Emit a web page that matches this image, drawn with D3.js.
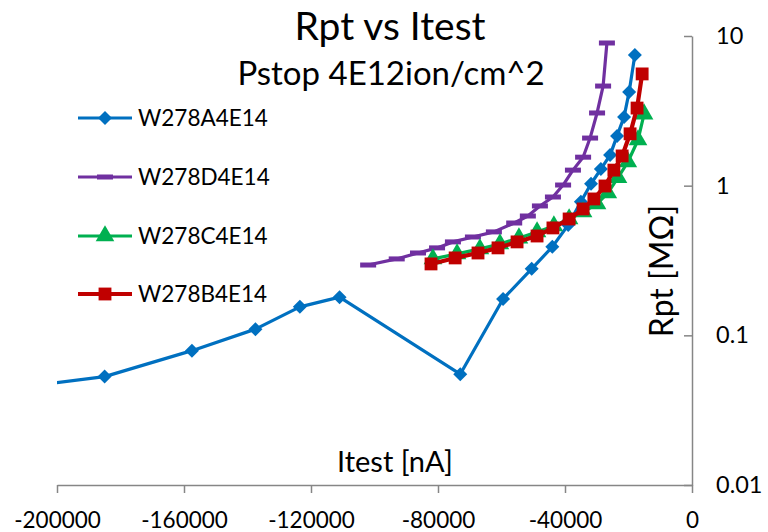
<!DOCTYPE html>
<html><head><meta charset="utf-8">
<script src="https://cdn.jsdelivr.net/npm/d3@7"></script>
<style>body{margin:0;background:#fff} text{font-family:Lato, sans-serif; fill:#000}</style>
</head><body><svg id="c" width="768" height="532"></svg>
<script>
// ---- data ----
const seriesNames = ["W278A4E14", "W278D4E14", "W278C4E14", "W278B4E14"];
const seriesColors = ["#0070C0", "#7030A0", "#00B050", "#C00000"];
const seriesMarkers = ["diamond", "dash", "triangle", "square"];

const itestA = [-215000, -185000, -157500, -137500, -123500, -111000, -73000, -59500, -50500, -44000, -39000, -35000, -31800, -28700, -25800, -23600, -21400, -19800, -18000];
const rptA   = [0.044, 0.053, 0.079, 0.110, 0.155, 0.180, 0.055, 0.175, 0.278, 0.39, 0.546, 0.78, 1.03, 1.29, 1.60, 2.15, 2.88, 4.23, 7.47];

const itestD = [-102000, -93000, -86300, -80300, -75300, -69000, -62400, -56000, -51700, -47900, -43800, -40600, -37500, -34300, -32100, -29900, -28000, -26800];
const rptD   = [0.295, 0.324, 0.355, 0.384, 0.421, 0.454, 0.491, 0.563, 0.627, 0.732, 0.840, 1.01, 1.27, 1.55, 2.08, 3.06, 4.63, 8.98];

const itestC = [-81600, -74000, -66800, -60500, -54500, -48800, -43500, -38700, -34300, -29900, -26500, -23300, -20200, -17000, -15100];
const rptC   = [0.324, 0.350, 0.378, 0.408, 0.447, 0.491, 0.538, 0.599, 0.667, 0.755, 0.894, 1.13, 1.44, 2.02, 3.01];

const itestB = [-82200, -74600, -67400, -61100, -55100, -48800, -43800, -38700, -34300, -30900, -27400, -24600, -22000, -19500, -17300, -15700];
const rptB   = [0.300, 0.329, 0.355, 0.384, 0.421, 0.461, 0.522, 0.599, 0.699, 0.815, 0.995, 1.27, 1.58, 2.22, 3.30, 5.58];

const xTicks = [-200000, -160000, -120000, -80000, -40000, 0];
const xTickLabels = ["-200000", "-160000", "-120000", "-80000", "-40000", "0"];
const yTicks = [0.01, 0.1, 1, 10];
const yTickLabels = ["0.01", "0.1", "1", "10"];

const titleText = "Rpt vs Itest";
const subtitleText = "Pstop 4E12ion/cm^2";
const xTitle = "Itest [nA]";
const yTitle = "Rpt [M\u03A9]";

// ---- chart ----
const svg = d3.select("#c");
const x = d3.scaleLinear().domain([-200000, 0]).range([57, 692]);
const y = d3.scaleLog().domain([0.01, 10]).range([485, 36]);
const axisColor = "#868686";

svg.append("defs").append("clipPath").attr("id", "clip")
  .append("rect").attr("x", x(-200000)).attr("y", 20).attr("width", x(0) - x(-200000)).attr("height", 475);

// x axis
const gx = svg.append("g").attr("transform", `translate(0,${y(0.01)})`)
  .call(d3.axisBottom(x).tickValues(xTicks).tickFormat((d, i) => xTickLabels[i]).tickSizeInner(8).tickSizeOuter(0).tickPadding(19));
gx.select(".domain").attr("stroke", axisColor).attr("stroke-width", 1.5);
gx.selectAll(".tick line").attr("stroke", axisColor).attr("stroke-width", 1.5);
gx.selectAll("text").style("font-size", "22.5px").attr("fill", "#000");

// y axis (log, at x = 0, labels on the right, ticks toward the left)
const gy = svg.append("g").attr("transform", `translate(${x(0)},0)`)
  .call(d3.axisRight(y).tickValues(yTicks).tickFormat((d, i) => yTickLabels[i]).tickSizeInner(-8).tickSizeOuter(0).tickPadding(24));
gy.select(".domain").attr("stroke", axisColor).attr("stroke-width", 1.5);
gy.selectAll(".tick line").attr("stroke", axisColor).attr("stroke-width", 1.5);
gy.selectAll("text").style("font-size", "23.5px").attr("fill", "#000");

// series
const series = [
  { xs: itestA, ys: rptA },
  { xs: itestD, ys: rptD },
  { xs: itestC, ys: rptC },
  { xs: itestB, ys: rptB }
];
const lineWidths = [3.2, 3.2, 3.2, 4.2];

function drawMarker(g, type, color) {
  if (type === "diamond") {
    g.append("path").attr("d", d3.symbol(d3.symbolSquare, 98)()).attr("transform", "rotate(45)").attr("fill", color);
  } else if (type === "square") {
    g.append("path").attr("d", d3.symbol(d3.symbolSquare, 165)()).attr("fill", color);
  } else if (type === "triangle") {
    g.append("path").attr("d", d3.symbol(d3.symbolTriangle, 150)()).attr("fill", color);
  } else if (type === "dash") {
    g.append("rect").attr("x", -8).attr("y", -2.5).attr("width", 16).attr("height", 5).attr("fill", color);
  }
}

const plot = svg.append("g").attr("clip-path", "url(#clip)");
series.forEach((s, si) => {
  const pts = s.xs.map((v, i) => [v, s.ys[i]]);
  const line = d3.line().x(d => x(d[0])).y(d => y(d[1]));
  plot.append("path").attr("d", line(pts)).attr("fill", "none")
    .attr("stroke", seriesColors[si]).attr("stroke-width", lineWidths[si]).attr("stroke-linejoin", "round");
  pts.forEach(p => {
    const g = plot.append("g").attr("transform", `translate(${x(p[0])},${y(p[1])})`);
    drawMarker(g, seriesMarkers[si], seriesColors[si]);
  });
});

// titles
svg.append("text").attr("x", 390).attr("y", 40).attr("text-anchor", "middle").style("font-size", "39px").text(titleText);
svg.append("text").attr("x", 391).attr("y", 85).attr("text-anchor", "middle").style("font-size", "33px").text(subtitleText);
svg.append("text").attr("x", 395).attr("y", 472).attr("text-anchor", "middle").style("font-size", "29px").text(xTitle);
svg.append("text").attr("transform", "translate(673,271) rotate(-90)").attr("text-anchor", "middle").style("font-size", "32px").text(yTitle);

// legend
const legend = svg.append("g");
const legY = [118, 177, 236, 294];
seriesNames.forEach((name, i) => {
  const g = legend.append("g").attr("transform", `translate(0,${legY[i]})`);
  g.append("line").attr("x1", 78).attr("x2", 132).attr("y1", 0).attr("y2", 0)
    .attr("stroke", seriesColors[i]).attr("stroke-width", lineWidths[i]);
  const m = g.append("g").attr("transform", "translate(105,0)");
  drawMarker(m, seriesMarkers[i], seriesColors[i]);
  g.append("text").attr("x", 138).attr("y", 0).attr("dy", "0.36em").style("font-size", "22.5px").text(name);
});
</script></body></html>
